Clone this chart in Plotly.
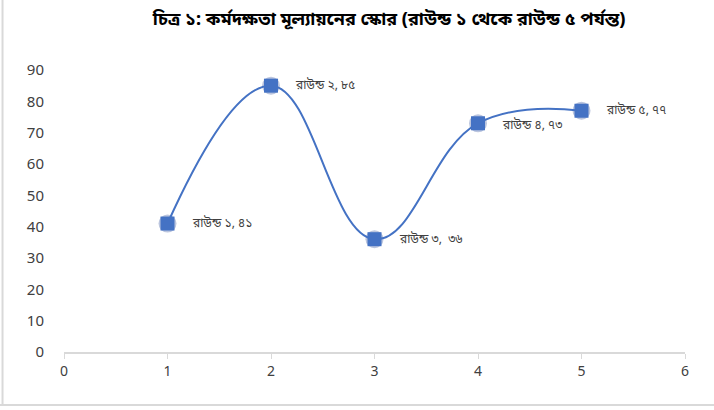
import plotly.graph_objects as go

rounds = [1, 2, 3, 4, 5]
scores = [41, 85, 36, 73, 77]
labels = ["রাউন্ড ১, ৪১", "রাউন্ড ২, ৮৫", "রাউন্ড ৩,  ৩৬", "রাউন্ড ৪, ৭৩", "রাউন্ড ৫, ৭৭"]
label_dy = [0, 0, 0, -2, 0]
title_text = "চিত্র ১: কর্মদক্ষতা মূল্যায়নের স্কোর (রাউন্ড ১ থেকে রাউন্ড ৫ পর্যন্ত)"
x_ticks = [0, 1, 2, 3, 4, 5, 6]
y_ticks = [0, 10, 20, 30, 40, 50, 60, 70, 80, 90]

BLUE = "#4472C4"
FONT = "Noto Sans Bengali, Noto Sans, Lato, sans-serif"

fig = go.Figure()
fig.add_trace(go.Scatter(
    x=rounds, y=scores, mode="markers",
    marker=dict(symbol="circle", size=18, color="rgba(60,90,160,0.35)"),
    hoverinfo="skip", showlegend=False))
fig.add_trace(go.Scatter(
    x=rounds, y=scores, mode="lines+markers",
    line=dict(color=BLUE, width=2, shape="spline", smoothing=1.2),
    marker=dict(symbol="square", size=14, color=BLUE),
    showlegend=False))

annotations = [
    dict(x=xv, y=yv, text=t, xref="x", yref="y", showarrow=False,
         xanchor="left", yanchor="middle", xshift=22, yshift=dy,
         font=dict(size=12, color="#404040", family=FONT))
    for xv, yv, t, dy in zip(rounds, scores, labels, label_dy)
]

fig.update_layout(
    width=714, height=410,
    margin=dict(l=64, r=29, t=70, b=58),
    paper_bgcolor="white", plot_bgcolor="white",
    font=dict(family=FONT, color="#595959"),
    title=dict(text="<b>" + title_text + "</b>", x=0.545, xanchor="center",
               y=0.955, yanchor="middle",
               font=dict(size=18, color="#000000", family=FONT)),
    xaxis=dict(range=[0, 6], tickvals=x_ticks, showgrid=False, zeroline=False,
               showline=True, linecolor="#D9D9D9", linewidth=2,
               ticks="outside", ticklen=5, tickcolor="#D9D9D9",
               tickfont=dict(size=14, color="#404040")),
    yaxis=dict(range=[0, 90], tickvals=y_ticks, showgrid=False, zeroline=False,
               showline=False, ticks="", ticklabelstandoff=19,
               tickfont=dict(size=15, color="#404040")),
    annotations=annotations,
    shapes=[
        dict(type="line", xref="paper", yref="paper", x0=-0.099, x1=-0.099,
             y0=1.3, y1=-0.188, line=dict(color="#D9D9D9", width=2)),
        dict(type="line", xref="paper", yref="paper", x0=-0.11, x1=1.1,
             y0=-0.188, y1=-0.188, line=dict(color="#D9D9D9", width=2)),
    ],
)

fig.write_html("out.html", config={"displayModeBar": False},
               post_script="document.body.style.margin='0';")
